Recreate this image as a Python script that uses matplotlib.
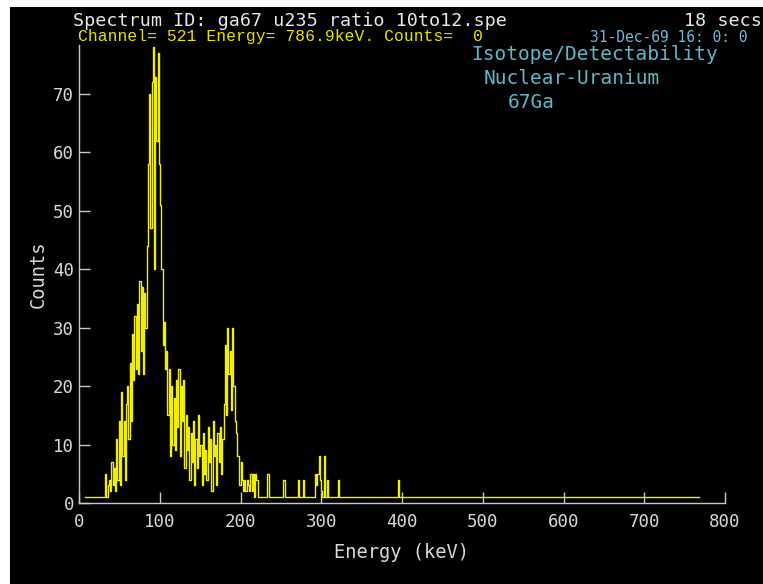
import numpy as np
import matplotlib
matplotlib.use('Agg')
import matplotlib.pyplot as plt
from matplotlib.patches import Rectangle

# 能量刻度: 521 道 = 786.9 keV
kev_per_channel = 786.9 / 521
first_channel = 5
last_channel = 508
baseline_count = 1

# 5~147 道的计数 (主峰 ~93 keV, 次峰 ~185 keV)
counts_low = [
    1, 1, 1, 1, 1, 1, 1, 1, 1, 1, 1, 1, 1, 1, 1, 1, 1,   # 5-21
    5, 1, 3, 4, 2, 7, 3, 6, 2, 11,                       # 22-31
    4, 14, 3, 19, 8, 14, 4, 17, 20, 11,                  # 32-41
    24, 14, 29, 21, 32, 23, 34, 22, 38, 26,              # 42-51
    37, 22, 36, 30, 44, 58, 70, 47, 72, 78,              # 52-61
    40, 73, 62, 77, 58, 51, 40, 27, 31, 23,              # 62-71
    26, 15, 23, 8, 20, 10, 18, 9, 21, 13,                # 72-81
    23, 8, 20, 14, 21, 6, 15, 9, 13, 4,                  # 82-91
    12, 7, 14, 3, 11, 6, 15, 8, 10, 3,                   # 92-101
    12, 5, 9, 4, 13, 7, 11, 2, 14, 8,                    # 102-111
    10, 3, 12, 7, 13, 5, 11, 17, 27, 15,                 # 112-121
    30, 22, 26, 16, 30, 20, 14, 12, 8, 8,                # 122-131
    3, 7, 4, 2, 4, 2, 4, 3, 2, 5,                        # 132-141
    2, 5, 1, 5, 4, 1,                                    # 142-147
]

# 148 道以后只剩零星计数
tail_channels = [155, 168, 180, 184, 194, 195, 196, 197, 198, 199, 201, 204, 213, 262]
tail_counts = [5, 4, 4, 4, 5, 3, 5, 8, 4, 2, 8, 4, 4, 4]

x_ticks = [0, 100, 200, 300, 400, 500, 600, 700, 800]
y_ticks = [0, 10, 20, 30, 40, 50, 60, 70]

channels = np.arange(first_channel, last_channel + 1)
counts = np.full(len(channels), baseline_count)
counts[:len(counts_low)] = counts_low
for ch, c in zip(tail_channels, tail_counts):
    counts[ch - first_channel] = c
energy = channels * kev_per_channel

fig = plt.figure(figsize=(7.63, 5.84), dpi=100, facecolor='white')
# 黑色背景区域
fig.patches.append(Rectangle((10 / 763, 0), 1, 1 - 7 / 584, transform=fig.transFigure,
                             facecolor='black', edgecolor='none', zorder=-5))

ax = fig.add_axes([79 / 763, 1 - 503 / 584, 646 / 763, 458 / 584])
ax.set_zorder(2)
ax.set_facecolor('black')
ax.plot(energy, counts, color='#f2ee00', lw=1.0, drawstyle='steps-mid')

ax.set_xlim(0, 800)
ax.set_ylim(0, 78.4)
ax.set_xticks(x_ticks)
ax.set_yticks(y_ticks)

axis_color = '#c8c8c8'
mono = 'DejaVu Sans Mono'
for side in ['top', 'right']:
    ax.spines[side].set_visible(False)
for side in ['left', 'bottom']:
    ax.spines[side].set_color(axis_color)
    ax.spines[side].set_linewidth(1.0)
ax.tick_params(axis='both', direction='in', length=8, width=1.0, color=axis_color,
               labelcolor='#d8d8d8', labelsize=12.5)
ax.tick_params(axis='x', pad=7)
ax.tick_params(axis='y', pad=3.5)
for lab in ax.get_xticklabels() + ax.get_yticklabels():
    lab.set_family(mono)

ax.set_xlabel('Energy (keV)', family=mono, fontsize=13.5, color='#d8d8d8')
ax.xaxis.set_label_coords(0.5, -0.087)
ax.set_ylabel('Counts', family=mono, fontsize=13.5, color='#d8d8d8')
ax.yaxis.set_label_coords(-0.049, 0.5)

# 顶部信息
fig.text(73 / 763, 1 - 21 / 584, 'Spectrum ID: ga67 u235 ratio 10to12.spe', family=mono,
         fontsize=13.2, color='#e8e8e8', va='center', ha='left')
fig.text(762 / 763, 1 - 21 / 584, '18 secs', family=mono, fontsize=13.2, color='#e8e8e8',
         va='center', ha='right')
fig.text(78 / 763, 1 - 36 / 584, 'Channel= 521 Energy= 786.9keV. Counts=  0',
         family='Liberation Mono', fontsize=11.8, color='#e6e200', va='center', ha='left')
fig.text(748 / 763, 1 - 37 / 584, '31-Dec-69 16: 0: 0', family=mono, fontsize=10.5,
         color='#70b8e0', va='center', ha='right')

cyan = '#5eb7c9'
fig.text(471 / 763, 1 - 54 / 584, 'Isotope/Detectability', family=mono, fontsize=14,
         color=cyan, va='center', ha='left')
fig.text(484 / 763, 1 - 78 / 584, 'Nuclear-Uranium', family=mono, fontsize=14,
         color=cyan, va='center', ha='left')
fig.text(508 / 763, 1 - 103 / 584, '67Ga', family=mono, fontsize=14,
         color=cyan, va='center', ha='left')

fig.savefig('out.png', dpi=100, facecolor=fig.get_facecolor())
